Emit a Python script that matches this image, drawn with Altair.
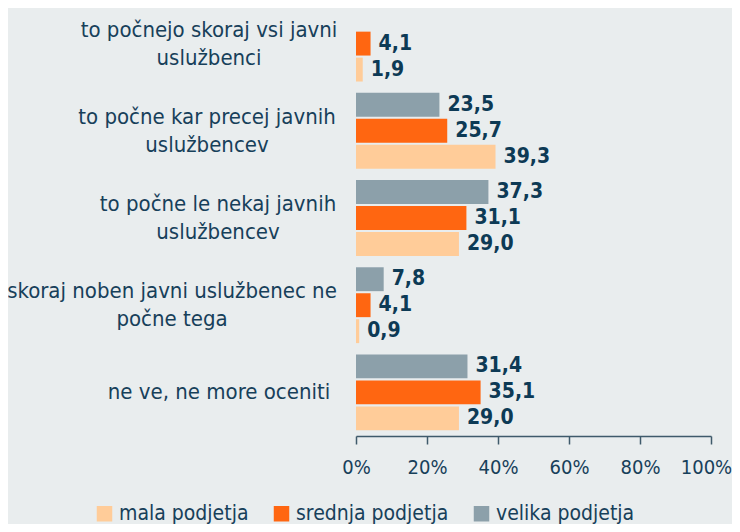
import altair as alt
import pandas as pd

categories = [
    "to počnejo skoraj vsi javni uslužbenci",
    "to počne kar precej javnih uslužbencev",
    "to počne le nekaj javnih uslužbencev",
    "skoraj noben javni uslužbenec ne počne tega",
    "ne ve, ne more oceniti",
]
category_lines = [
    "to počnejo skoraj vsi javni\nuslužbenci",
    "to počne kar precej javnih\nuslužbencev",
    "to počne le nekaj javnih\nuslužbencev",
    "skoraj noben javni uslužbenec ne\npočne tega",
    "ne ve, ne more oceniti",
]
series = ["mala podjetja", "srednja podjetja", "velika podjetja"]
mala = [1.9, 39.3, 29.0, 0.9, 29.0]
srednja = [4.1, 25.7, 31.1, 4.1, 35.1]
velika = [None, 23.5, 37.3, 7.8, 31.4]
x_ticks = [0, 20, 40, 60, 80, 100]
colors = ["#ffcc99", "#ff6611", "#8ca0aa"]

rows = []
for name, vals in zip(series, [mala, srednja, velika]):
    for cat, v in zip(categories, vals):
        if v is None:
            continue
        rows.append({"category": cat, "series": name, "value": v,
                     "label": f"{v:.1f}".replace(".", ",")})
df = pd.DataFrame(rows)
df_cat = pd.DataFrame({"category": categories, "label": category_lines})

FONT = "DejaVu Sans Condensed"
TEXT = "#17405a"
VALC = "#0d3a55"

y_enc = alt.Y("category:N", sort=categories,
              scale=alt.Scale(paddingInner=0.13, paddingOuter=0.065), axis=None)
yoff = alt.YOffset("series:N", sort=series[::-1], scale=alt.Scale(paddingInner=0.08))

bars = alt.Chart(df).mark_bar().encode(
    x=alt.X("value:Q", scale=alt.Scale(domain=[0, 100]),
            axis=alt.Axis(values=x_ticks, labelExpr="datum.value + '%'", title=None,
                          grid=False, domainColor="#3f5a6b", domainWidth=1.5,
                          tickColor="#3f5a6b", tickWidth=1.5, tickSize=8,
                          labelFont=FONT, labelFontSize=20, labelColor=TEXT,
                          labelPadding=13, labelFlush=False,
                          labelOffset={"condition": {"test": "datum.value == 100",
                                                     "value": -5},
                                       "value": 0})),
    y=y_enc,
    yOffset=yoff,
    color=alt.Color("series:N", scale=alt.Scale(domain=series, range=colors),
                    legend=alt.Legend(title=None, orient="none", direction="horizontal",
                                      legendX=-262, legendY=503,
                                      symbolType="square", symbolSize=240,
                                      symbolStrokeWidth=0, symbolOpacity=1,
                                      labelFont=FONT, labelFontSize=21,
                                      labelColor=TEXT, labelOffset=4,
                                      columnPadding=22)),
)

values = alt.Chart(df).mark_text(align="left", baseline="middle", dx=8,
                                 font=FONT, fontSize=21, fontWeight="bold",
                                 color=VALC).encode(
    x="value:Q", y=y_enc, yOffset=yoff, text="label:N")

# horizontal centre of each category label block (pixels left of the x=0 line)
label_centres = [-147, -149, -138, -184, -137]

cat_layers = []
for cat, lines, cx in zip(categories, category_lines, label_centres):
    n = lines.count("\n") + 1
    cat_layers.append(
        alt.Chart(df_cat).transform_filter(alt.datum.category == cat)
        .mark_text(align="center", baseline="middle", lineBreak="\n", lineHeight=28,
                   dy=-14 * (n - 1), font=FONT, fontSize=22, color=TEXT)
        .encode(y=y_enc, x=alt.value(cx), text="label:N")
    )

chart = alt.layer(bars, values, *cat_layers).properties(
    width=355, height=436, autosize="none",
    padding={"left": 348, "top": -8, "right": 21, "bottom": 88},
    background="#e9edee",
).configure_view(stroke=None)

chart.save("out.html", embed_options={"renderer": "svg", "actions": False})
